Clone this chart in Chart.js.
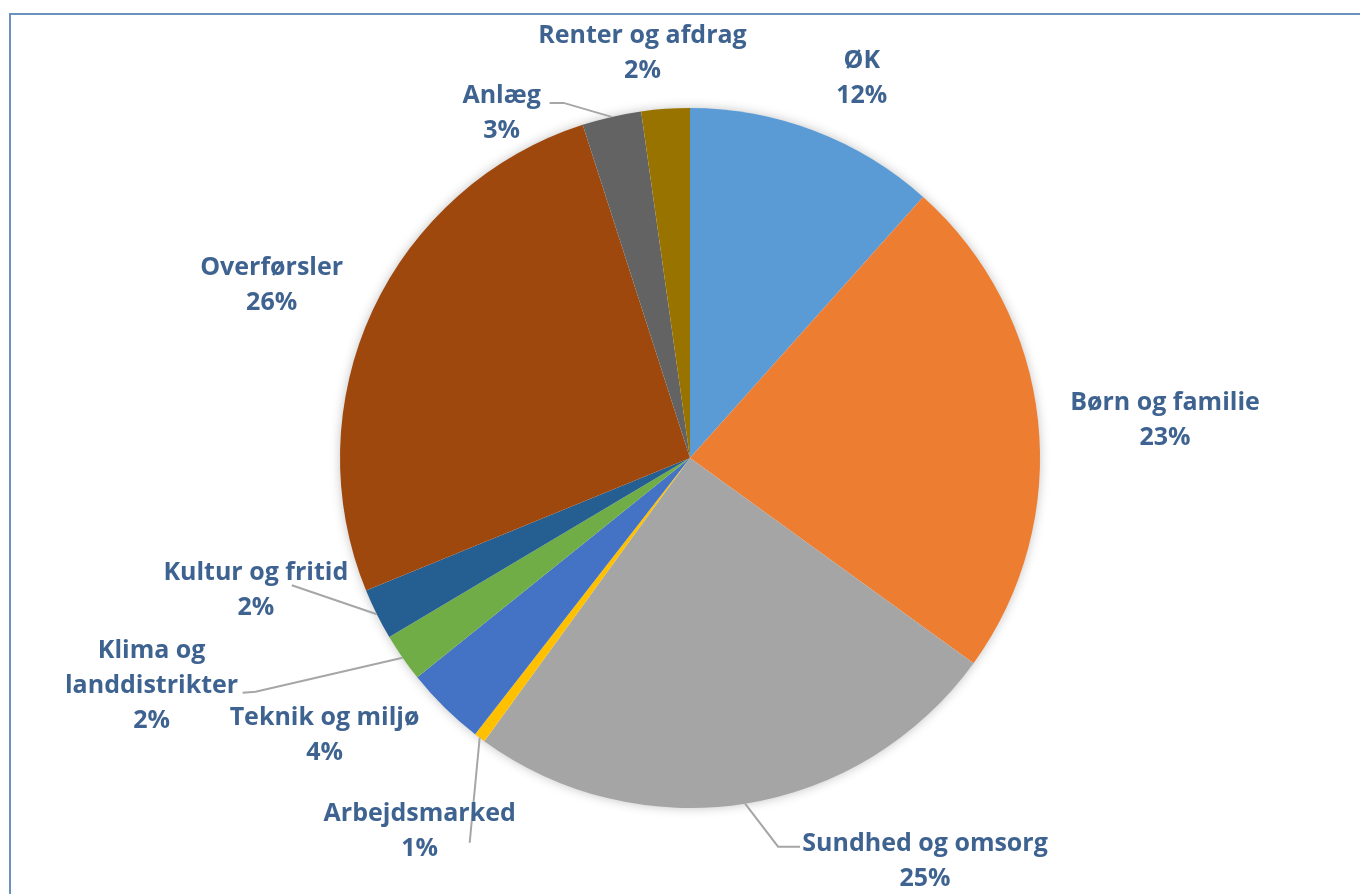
<!DOCTYPE html>
<html>
<head>
<meta charset="utf-8">
<title>Fordeling af budget</title>
<script src="https://cdn.jsdelivr.net/npm/chart.js@4.4.1/dist/chart.umd.min.js"></script>
<style>
  html, body { margin: 0; padding: 0; background: #fff; }
  #wrap { position: relative; width: 1360px; height: 894px; overflow: hidden; }
  #frame { position: absolute; left: 9px; top: 13px; width: 1400px; height: 1000px;
           border-top: 2px solid #6a92bd; border-left: 2px solid #6a92bd; }
  #budgetChart { position: absolute; left: 0; top: 0; }
</style>
</head>
<body>
<div id="wrap">
  <div id="frame"></div>
  <canvas id="budgetChart" width="1360" height="894"></canvas>
</div>
<script>
// Kategorier og andele (i procent)
const categories = ['ØK', 'Børn og familie', 'Sundhed og omsorg', 'Arbejdsmarked', 'Teknik og miljø',
                    'Klima og landdistrikter', 'Kultur og fritid', 'Overførsler', 'Anlæg', 'Renter og afdrag'];
const shares = [11.6, 23.37, 25.03, 0.52, 3.7, 2.23, 2.37, 26.22, 2.73, 2.23];
const colors = ['#5b9bd5', '#ed7d31', '#a5a5a5', '#ffc000', '#4472c4',
                '#70ad47', '#255e91', '#9e480e', '#636363', '#997300'];

// Linjeskift i etiketter
const wrapped = { 'Klima og landdistrikter': ['Klima og', 'landdistrikter'] };

// Etiketplacering: forskydning fra skivens yderkant (midtervinkel)
const labelOffset = [[47, -53], [127, 0], [180, 58], [-60, 94], [-120, 28],
                     [-251, 28], [-121, -24], [-101, -25], [-110, -4], [-23, -55]];
// Hjælpelinjer: knækpunkter relativt til etikettens midte (sidste punkt = skivens kant)
const leaders = {
  2: [[-125, -15], [-147, -15]],
  3: [[50, 11]],
  5: [[91, 7], [104, 6]],
  6: [[36, -5]],
  8: [[48, -10], [62, -10]]
};

const labelColor = '#3f6390';
const lineH = 35;

// Blød skygge bag hele lagkagen
const pieShadow = {
  id: 'pieShadow',
  beforeDatasetsDraw(chart) {
    const arc = chart.getDatasetMeta(0).data[0];
    if (!arc) return;
    const ctx = chart.ctx;
    ctx.save();
    ctx.shadowColor = 'rgba(0,0,0,0.28)';
    ctx.shadowBlur = 12;
    ctx.fillStyle = '#ffffff';
    ctx.beginPath();
    ctx.arc(arc.x, arc.y, arc.outerRadius - 1, 0, Math.PI * 2);
    ctx.fill();
    ctx.restore();
  }
};

const outsideLabels = {
  id: 'outsideLabels',
  afterDraw(chart) {
    const ctx = chart.ctx;
    const arcs = chart.getDatasetMeta(0).data;
    const total = shares.reduce((a, b) => a + b, 0);
    ctx.save();
    arcs.forEach((arc, i) => {
      const mid = (arc.startAngle + arc.endAngle) / 2;
      const ex = arc.x + Math.cos(mid) * arc.outerRadius;
      const ey = arc.y + Math.sin(mid) * arc.outerRadius;
      const lx = ex + labelOffset[i][0];
      const ly = ey + labelOffset[i][1];

      if (leaders[i]) {
        ctx.strokeStyle = '#a6a6a6';
        ctx.lineWidth = 2;
        ctx.beginPath();
        leaders[i].forEach((p, k) => {
          if (k === 0) ctx.moveTo(lx + p[0], ly + p[1]);
          else ctx.lineTo(lx + p[0], ly + p[1]);
        });
        ctx.lineTo(ex, ey);
        ctx.stroke();
      }

      const lines = (wrapped[categories[i]] || [categories[i]]).slice();
      lines.push(Math.round(shares[i] / total * 100) + '%');
      ctx.fillStyle = labelColor;
      ctx.font = 'bold 25px "Open Sans", Lato, sans-serif';
      ctx.textAlign = 'center';
      ctx.textBaseline = 'middle';
      const n = lines.length;
      lines.forEach((t, k) => {
        ctx.fillText(t, lx, ly + (k - (n - 1) / 2) * lineH);
      });
    });
    ctx.restore();
  }
};

new Chart(document.getElementById('budgetChart').getContext('2d'), {
  type: 'pie',
  data: {
    labels: categories,
    datasets: [{
      data: shares,
      backgroundColor: colors,
      borderWidth: 0
    }]
  },
  options: {
    responsive: false,
    animation: false,
    layout: { padding: { top: 108, bottom: 86, left: 340, right: 320 } },
    plugins: {
      legend: { display: false },
      tooltip: { enabled: false }
    },
    events: []
  },
  plugins: [pieShadow, outsideLabels]
});
</script>
</body>
</html>
